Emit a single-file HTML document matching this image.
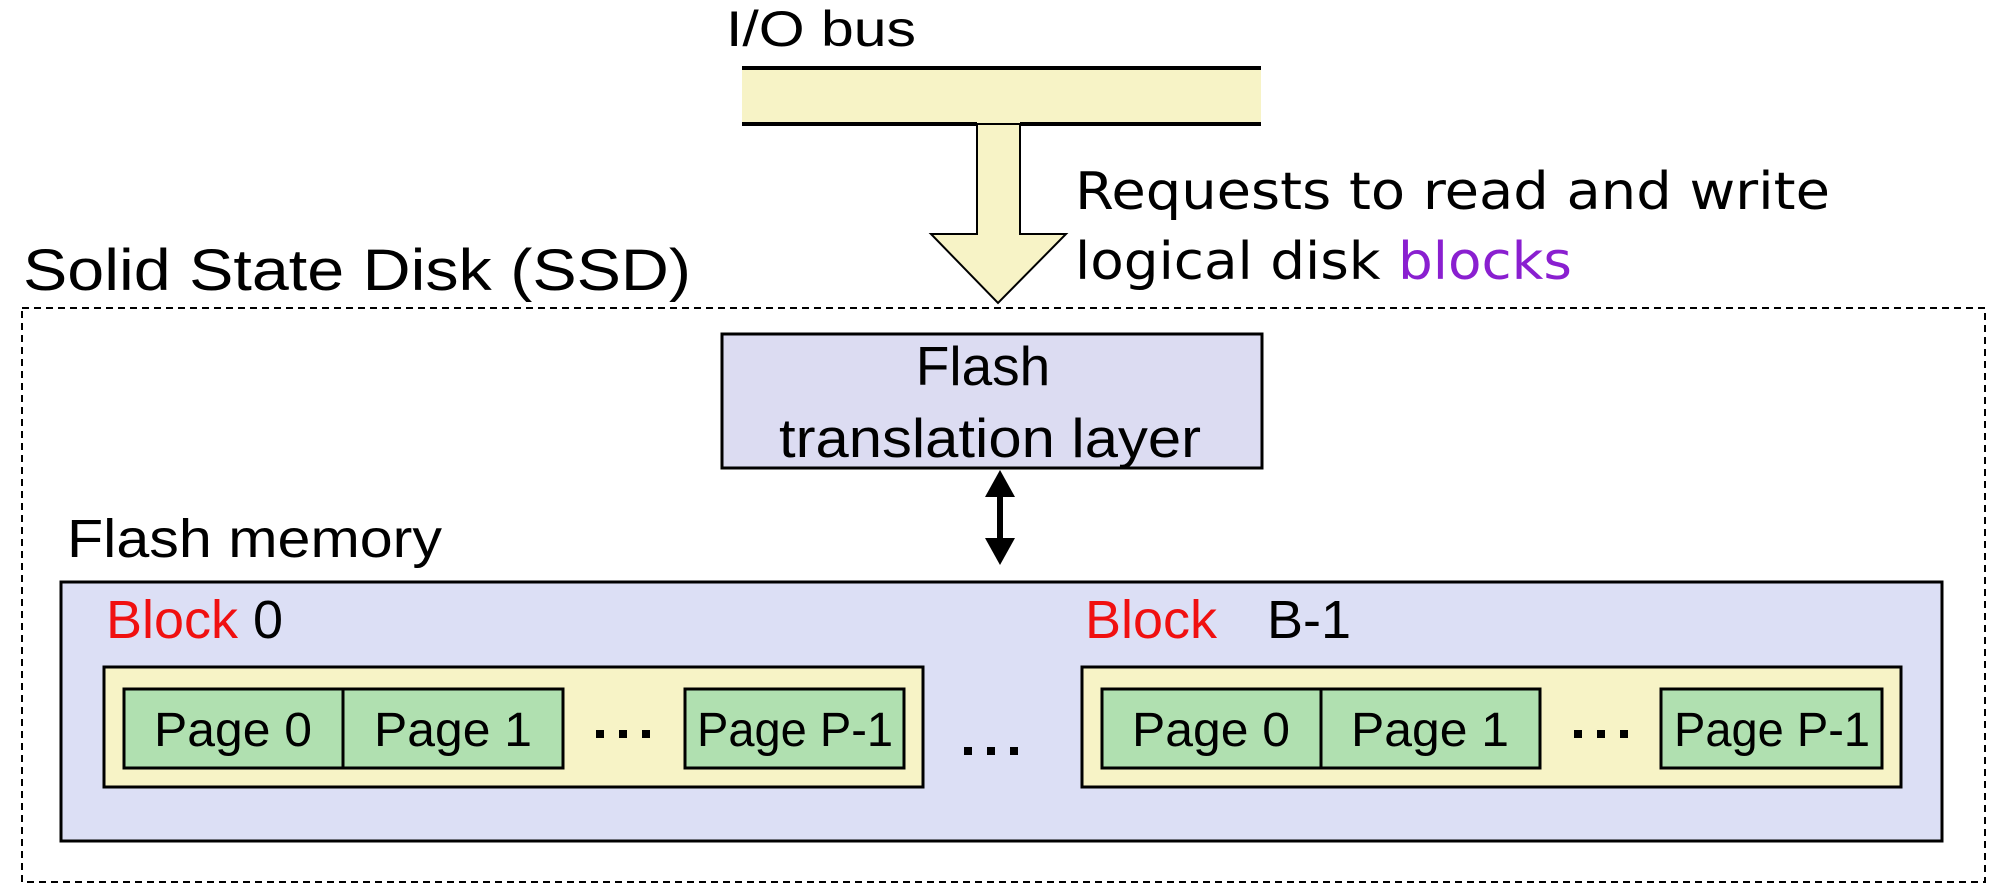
<!DOCTYPE html>
<html><head><meta charset="utf-8"><style>
html,body{margin:0;padding:0;background:#fff;width:2007px;height:892px;overflow:hidden}
svg{display:block}
text{font-family:"Liberation Sans",Arial,sans-serif;fill:#000}
.c{font-family:"DejaVu Sans","Liberation Sans",sans-serif}
</style></head><body>
<svg width="2007" height="892" viewBox="0 0 2007 892" xmlns="http://www.w3.org/2000/svg">
<text x="726" y="46" font-size="50" textLength="190" lengthAdjust="spacingAndGlyphs">I/O bus</text>
<rect x="742" y="68" width="519" height="56" fill="#f7f3c6"/>
<line x1="742" y1="68" x2="1261" y2="68" stroke="#000" stroke-width="4"/>
<line x1="742" y1="124" x2="977" y2="124" stroke="#000" stroke-width="4"/>
<line x1="1020" y1="124" x2="1261" y2="124" stroke="#000" stroke-width="4"/>
<polygon points="977,124 1020,124 1020,234 1066,234 998,303 931,234 977,234" fill="#f7f3c6" stroke="#000" stroke-width="2"/>
<text class="c" x="1075" y="209" font-size="52" textLength="755" lengthAdjust="spacingAndGlyphs">Requests to read and write</text>
<text class="c" x="1075" y="279" font-size="52" textLength="497" lengthAdjust="spacingAndGlyphs">logical disk <tspan fill="#8a1fd0">blocks</tspan></text>
<text x="23" y="290" font-size="58" textLength="668" lengthAdjust="spacingAndGlyphs">Solid State Disk (SSD)</text>
<rect x="22" y="308" width="1963" height="574" fill="none" stroke="#000" stroke-width="2" stroke-dasharray="7,5"/>
<rect x="722" y="334" width="540" height="134" fill="#dcdcf2" stroke="#000" stroke-width="3"/>
<text x="983" y="385" font-size="55" text-anchor="middle">Flash</text>
<text x="990" y="457" font-size="55" text-anchor="middle" textLength="422" lengthAdjust="spacingAndGlyphs">translation layer</text>
<line x1="1000" y1="490" x2="1000" y2="545" stroke="#000" stroke-width="6"/>
<polygon points="1000,470 1015,497 985,497" fill="#000"/>
<polygon points="1000,565 1015,538 985,538" fill="#000"/>
<text x="67" y="557" font-size="54" textLength="375" lengthAdjust="spacingAndGlyphs">Flash memory</text>
<rect x="61" y="582" width="1881" height="259" fill="#dcdff5" stroke="#000" stroke-width="3"/>
<text x="106" y="638" font-size="54"><tspan fill="#f01010">Block</tspan> 0</text>
<text x="1085" y="638" font-size="54"><tspan fill="#f01010">Block</tspan></text>
<text x="1267" y="638" font-size="54">B-1</text>
<rect x="104" y="667" width="819" height="120" fill="#f7f3c6" stroke="#000" stroke-width="3"/>
<rect x="124" y="689" width="219" height="79" fill="#b0e0b0" stroke="#000" stroke-width="3"/>
<rect x="343" y="689" width="220" height="79" fill="#b0e0b0" stroke="#000" stroke-width="3"/>
<rect x="685" y="689" width="219" height="79" fill="#b0e0b0" stroke="#000" stroke-width="3"/>
<text x="233" y="746" font-size="48" text-anchor="middle" textLength="158" lengthAdjust="spacingAndGlyphs">Page 0</text>
<text x="453" y="746" font-size="48" text-anchor="middle" textLength="158" lengthAdjust="spacingAndGlyphs">Page 1</text>
<text x="795" y="746" font-size="48" text-anchor="middle" textLength="196" lengthAdjust="spacingAndGlyphs">Page P-1</text>
<rect x="1082" y="667" width="819" height="120" fill="#f7f3c6" stroke="#000" stroke-width="3"/>
<rect x="1102" y="689" width="219" height="79" fill="#b0e0b0" stroke="#000" stroke-width="3"/>
<rect x="1321" y="689" width="219" height="79" fill="#b0e0b0" stroke="#000" stroke-width="3"/>
<rect x="1661" y="689" width="221" height="79" fill="#b0e0b0" stroke="#000" stroke-width="3"/>
<text x="1211" y="746" font-size="48" text-anchor="middle" textLength="158" lengthAdjust="spacingAndGlyphs">Page 0</text>
<text x="1430" y="746" font-size="48" text-anchor="middle" textLength="158" lengthAdjust="spacingAndGlyphs">Page 1</text>
<text x="1772" y="746" font-size="48" text-anchor="middle" textLength="196" lengthAdjust="spacingAndGlyphs">Page P-1</text>
<g fill="#000">
<rect x="596" y="730" width="8" height="8"/><rect x="619" y="730" width="8" height="8"/><rect x="642" y="730" width="8" height="8"/>
<rect x="964" y="747" width="8" height="8"/><rect x="987" y="747" width="8" height="8"/><rect x="1010" y="747" width="8" height="8"/>
<rect x="1574" y="730" width="8" height="8"/><rect x="1597" y="730" width="8" height="8"/><rect x="1620" y="730" width="8" height="8"/>
</g>
</svg>
</body></html>
